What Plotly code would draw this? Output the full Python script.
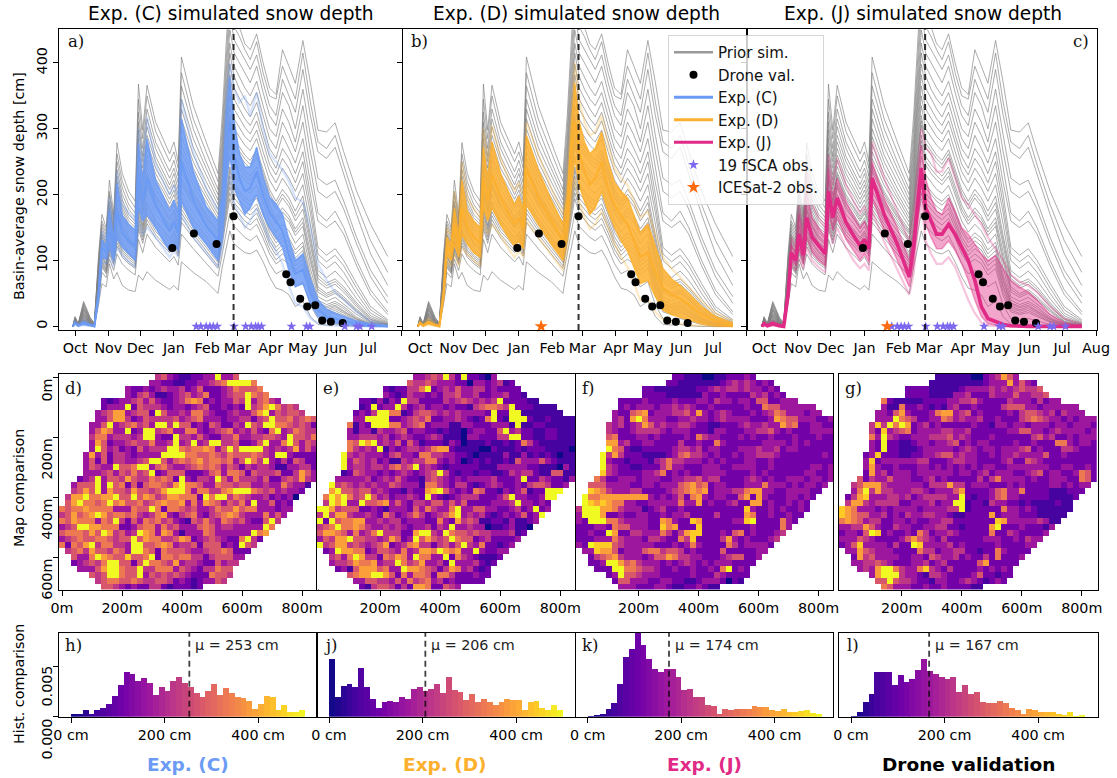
import plotly.graph_objects as go

W, H = 1117, 778
FONT = "DejaVu Sans"
SERIF = "DejaVu Serif"
TICK = 14.3

month_days = [0, 31, 61, 92, 123, 151, 182, 212, 243, 273, 304]
month_labels = ["Oct", "Nov", "Dec", "Jan", "Feb", "Mar", "Apr", "May", "Jun", "Jul", "Aug"]
day = [-2,0,3,8,14,18,22,25,29,32,36,39,44,50,56,59,63,67,75,82,88,92,96,99,110,122,133,137,141,144,148,153,158,163,169,175,181,187,193,199,205,212,219,226,234,242,250,262,275,291]

prior_sims = [
[0,15,4,38,14,5,110,170,150,222,170,279,232,205,190,368,298,366,310,285,262,280,250,409,335,280,232,320,450,530,480,455,429,420,444,400,362,352,420,395,369,434,370,298,295,309,265,205,155,106],
[0,14,4,36,13,5,105,160,145,205,165,262,220,195,180,345,285,350,296,270,250,265,240,385,315,265,220,300,420,500,455,440,420,405,432,385,350,345,395,370,345,415,340,280,270,290,245,185,130,82],
[0,13,3,34,12,4,100,155,140,200,160,250,210,185,172,325,270,330,280,255,235,252,228,365,300,250,208,285,400,475,435,420,405,390,412,370,335,320,375,350,325,390,320,265,255,272,230,170,110,62],
[0,12,3,32,11,4,98,150,135,190,155,238,200,178,165,310,258,315,270,245,225,240,218,345,285,240,200,272,380,450,415,400,385,370,395,355,320,305,355,335,300,360,290,225,215,222,190,135,85,45],
[0,12,3,30,10,3,92,145,130,185,150,228,192,170,160,298,250,303,258,235,215,232,208,330,272,230,192,260,360,430,395,378,362,350,372,335,300,288,330,310,280,335,265,205,195,205,178,125,75,35],
[0,11,3,28,9,3,90,140,128,180,148,220,185,165,155,285,240,290,250,228,208,222,200,315,260,220,185,250,345,415,380,360,345,335,355,320,285,270,310,290,265,310,240,172,160,175,150,100,55,22],
[0,11,3,26,9,3,88,138,125,175,145,212,180,160,150,272,230,280,240,220,200,215,192,300,250,210,178,240,330,398,362,345,330,318,340,305,270,255,290,270,248,285,218,160,150,160,140,92,48,18],
[0,10,2,25,8,3,85,135,122,172,142,205,175,155,146,262,222,270,232,212,193,207,185,288,240,202,170,230,318,382,345,330,315,305,325,290,258,240,270,255,232,265,200,120,108,118,100,65,30,10],
[0,10,2,24,8,2,82,132,120,168,140,198,170,150,142,252,214,260,224,205,186,200,178,276,230,195,164,222,305,365,330,316,302,292,312,280,246,230,255,240,218,250,185,110,98,108,92,58,25,8],
[0,10,2,22,7,2,80,130,118,165,138,192,165,147,138,245,208,252,216,198,180,192,172,265,222,188,158,214,292,350,315,302,288,280,298,265,235,218,240,225,205,232,172,100,88,98,82,50,20,6],
[0,9,2,20,7,2,76,128,115,160,134,186,160,143,133,237,200,243,208,190,174,185,166,255,214,180,152,206,280,335,300,288,275,267,285,252,222,205,225,210,190,215,155,85,74,84,70,42,16,5],
[0,9,2,19,6,2,72,125,112,155,130,180,155,138,128,228,192,234,200,183,167,178,160,245,205,172,146,198,268,320,285,272,260,252,268,238,208,190,208,195,175,198,140,78,66,72,60,36,13,4],
[0,8,2,18,6,2,70,120,108,150,126,174,150,133,124,220,185,226,193,176,160,171,154,235,197,165,140,190,256,305,272,260,248,240,256,226,196,178,195,182,160,178,122,68,58,64,52,30,10,3],
[0,8,2,16,5,1,66,115,104,145,122,168,145,128,120,210,178,218,186,170,154,165,148,226,190,160,134,182,245,290,258,246,236,228,242,214,184,165,180,168,148,165,110,60,50,56,45,26,8,2],
[0,8,1,15,5,1,62,112,100,140,118,162,140,124,115,202,170,210,178,163,148,158,142,216,182,152,128,174,232,275,245,232,222,215,228,200,172,155,168,158,138,152,98,52,44,50,40,22,6,2],
[0,7,1,13,4,1,58,108,96,135,114,155,134,119,110,192,162,200,170,156,142,152,136,205,172,145,120,165,220,258,230,218,208,202,214,188,160,143,155,145,126,140,88,45,38,44,34,18,5,1],
[0,7,1,12,4,1,55,104,92,130,110,148,128,114,105,182,154,190,162,148,135,145,130,195,164,138,112,156,206,242,215,205,195,190,200,175,148,132,142,134,116,128,78,40,33,38,30,14,4,1],
[0,6,1,10,3,0,52,100,88,124,105,140,120,108,100,172,146,180,154,140,128,138,123,184,155,130,105,148,194,228,202,192,182,176,186,162,136,120,130,122,104,115,68,34,28,32,24,11,3,0],
[0,6,1,9,3,0,48,95,84,118,100,132,113,102,94,160,136,168,144,132,120,130,115,172,145,120,97,138,180,212,188,178,168,162,172,150,124,108,118,110,92,102,58,28,23,27,20,8,2,0],
[0,5,1,8,2,0,44,90,80,110,94,122,105,95,88,148,126,156,134,122,112,120,107,158,134,110,88,126,165,194,172,162,152,146,155,134,110,95,102,95,78,88,46,22,18,21,15,6,1,0],
[0,5,1,7,2,0,40,82,74,102,85,110,95,85,78,132,112,140,120,108,98,106,93,140,118,96,76,110,145,172,152,144,135,130,138,118,95,80,85,78,60,68,32,12,9,12,8,3,0,0],
[0,4,0,5,1,0,35,65,60,95,72,82,62,55,53,78,70,83,70,62,56,62,55,98,82,68,50,90,120,145,125,118,112,110,116,98,75,58,55,48,30,38,15,3,2,3,1,0,0,0],
[0,7,1,11,4,1,54,106,94,128,108,145,125,112,103,178,150,186,158,145,132,142,127,190,160,134,108,152,200,236,210,200,190,184,195,170,143,127,136,128,110,122,72,36,30,35,27,12,3,1],
[0,6,1,10,3,0,50,98,86,120,102,136,116,105,97,166,141,174,149,136,124,134,119,178,150,125,101,142,187,220,195,185,175,169,179,156,130,114,124,116,98,108,62,31,25,30,22,10,2,0],
[0,6,1,8,3,0,46,92,82,114,97,127,109,98,91,154,131,162,139,127,116,125,111,165,140,115,92,132,172,203,180,170,160,154,164,142,117,101,110,102,85,95,52,25,20,24,17,7,2,0],
[0,8,2,14,5,1,64,113,102,142,120,165,142,126,118,206,174,214,182,166,151,161,145,221,186,156,131,178,238,282,251,239,229,221,235,207,178,160,174,163,143,158,104,56,47,53,42,24,7,2],
[0,9,2,17,6,2,71,122,110,152,128,177,152,135,126,224,188,230,196,180,163,174,157,240,201,168,143,194,262,312,278,266,254,246,262,232,202,184,201,188,167,188,131,73,62,68,56,33,11,3],
]

exp_c_light_hi = [0,8,3,10,4,1,60,145,130,195,150,235,185,172,160,300,245,318,245,220,200,215,195,345,265,210,175,225,355,400,360,340,350,320,355,300,262,250,237,220,195,189,150,95,70,52,40,22,8,2]
exp_c_hi = [0,6,2,7,3,1,55,132,122,178,132,217,168,155,146,278,222,285,222,197,176,192,172,315,236,182,160,202,330,378,312,262,242,242,272,226,196,186,170,132,100,110,72,40,26,20,15,8,4,1]
exp_c_mid = [0,5,1,5,2,0,50,120,112,150,115,175,142,130,122,230,190,225,185,162,145,158,142,250,192,152,130,168,270,310,260,225,205,210,235,198,172,160,145,108,80,86,52,26,15,12,8,4,2,0]
exp_c_lo = [0,4,1,3,1,0,45,105,102,120,100,135,120,110,100,182,160,170,150,130,115,125,115,190,150,125,100,135,220,262,210,190,170,180,200,170,150,135,120,85,60,65,35,15,8,5,3,1,0,0]
exp_c_light_lo = [0,3,0,2,1,0,40,98,95,110,90,120,108,98,90,160,140,150,135,118,105,115,105,170,135,112,90,120,200,230,185,170,150,160,180,155,130,115,95,62,35,30,12,5,2,1,0,0,0,0]

exp_d_light_hi = [0,8,3,12,5,1,60,150,135,205,160,250,195,178,165,300,250,305,255,225,205,218,198,310,262,210,170,215,330,400,345,310,290,295,320,275,240,225,215,190,165,175,140,105,88,75,60,38,20,8]
exp_d_hi = [0,6,2,8,3,1,55,135,125,180,140,222,175,160,150,272,225,280,232,205,185,198,178,290,238,192,155,198,305,370,312,280,262,270,295,250,218,205,195,170,142,155,120,88,72,62,50,30,15,5]
exp_d_mid = [0,5,1,6,2,0,50,122,112,155,120,180,150,135,125,225,190,230,195,172,155,165,150,240,195,160,130,165,260,310,265,235,215,225,250,210,185,168,155,130,105,112,82,58,48,42,33,18,8,2]
exp_d_lo = [0,4,1,4,1,0,45,108,100,125,105,140,125,112,105,180,160,180,155,135,122,130,118,185,155,125,100,135,215,255,215,190,170,180,205,175,150,130,115,90,65,70,45,25,18,14,10,4,1,0]
exp_d_light_lo = [0,3,0,2,1,0,40,100,92,110,92,120,110,100,92,160,140,155,138,118,105,115,105,160,135,108,85,118,190,225,190,165,148,155,175,150,125,105,90,65,40,42,22,10,6,4,2,1,0,0]

exp_j_light_hi = [0,6,2,8,3,1,55,135,120,185,140,240,185,165,150,260,215,255,215,190,172,182,165,280,225,175,128,170,250,300,270,262,235,235,255,225,195,185,170,155,135,118,100,78,68,62,52,30,12,3]
exp_j_hi = [0,5,1,6,2,0,52,125,112,170,125,205,165,150,135,240,198,225,190,168,150,160,145,250,195,150,100,145,225,275,225,195,175,170,195,175,150,140,125,110,100,108,88,70,60,52,40,18,6,1]
exp_j_mid = [0,4,1,4,1,0,48,112,100,140,108,165,135,122,110,205,165,195,158,138,122,132,118,225,170,125,75,120,195,240,180,160,140,140,155,140,120,100,70,30,12,8,3,1,0,0,0,0,0,0]
exp_j_lo = [0,3,0,2,1,0,44,100,92,118,95,135,112,100,92,175,145,165,132,115,100,110,98,195,145,100,60,95,165,205,155,135,118,118,130,115,95,70,40,15,4,2,0,0,0,0,0,0,0,0]
exp_j_light_lo = [0,2,0,1,0,0,40,95,85,105,88,120,100,90,82,155,125,150,120,100,88,95,85,175,128,85,48,80,150,190,130,110,95,95,105,90,65,40,20,6,1,0,0,0,0,0,0,0,0,0]

drone_days = [90.5,110.6,131.7,147.5,196.5,200.5,209.5,216,223.5,230,238,249]
drone_depth = [119,141,125,167,79,67,42,30,32,9,7,5]
fsca_days = [112.8,117,122,125.5,128.6,132.3,148,158.7,164,168,170.4,173.5,201.4,215.4,218.5,251,262,265,276]
icesat_day = [112.7]
fsca_zero = [0]*19
icesat_zero = [0]
valid_day = 147.5

# Map values: one character per 20 m cell, level 0 (dark) to 9 (bright), '.' = no data
map_c = [
".......... ......4532 1122339335 .......... ...",
".......... .....33221 1223345699 996....... ...",
".......... .322323433 4235222346 5556...... ...",
".......... .324531123 4534622345 59656..... ...",
".......212 3345353223 4676232335 4935643... ...",
".......233 3925444323 3234522323 2945796454 ...",
"......3457 7345529533 4366432234 3357935455 4..",
"......3357 7423544445 3456333233 4424595564 565",
".....33593 4564539949 5523254224 3954996654 542",
".....35763 3923994563 3663234563 4353269346 544",
".....46634 4434993229 4435322446 3344554395 546",
".....37523 3454463349 3493499445 2235933695 354",
".....39534 2325344499 6566763595 9999434347 353",
"....373524 4323333999 9665565465 5565439932 222",
"....352524 4334599535 6567566563 5964932425 422",
"....354339 5569935643 3456565354 2434431133 442",
"....333453 5464592355 5222356366 5254445224 753",
"...2349355 4754465652 9324439536 4443522454 743",
"..35559395 6252566547 9665336554 5533433643 31.",
"..45759375 5475545799 9636644679 9965453433 2..",
".477966779 5595764577 6662969946 5433423230 ...",
".579665696 7556456766 7363765354 639335232. ...",
"6566766663 3365596266 5453346557 566333233. ...",
"4575679756 6564346732 4563245676 43336353.. ...",
"6576663659 4253656453 2154643654 5322594... ...",
"3459977666 2235663645 3335653443 333396.... ...",
"5666575974 5349763763 1333653333 33967..... ...",
"3456556654 5595766445 7623454322 6942...... ...",
"6265794664 4399556763 4452555232 954....... ...",
".456475546 5399652655 5433455652 22........ ...",
"..53369765 5855692665 6644245553 3......... ...",
"..23454699 5525966547 3443225344 .......... ...",
"...3335799 6559446663 543244655. .......... ...",
".....54599 6559354545 432226554. .......... ...",
"......4566 5565445542 32123354.. .......... ...",
".......554 3232244212 2212...... .......... ...",
]

map_d = [
".......... ......3345 4942922103 .......... ...",
".......... .....54454 3332203323 412....... ...",
".......... .212244692 3435334423 2222...... ...",
".......... .321243323 2445334223 34221..... ...",
".......221 3132944222 2434543434 9222211... ...",
".......129 2339423423 3232214566 5492221111 ...",
"......2324 9966124554 3434333329 2299111111 1..",
"......3399 9922345462 2334321269 2199921121 111",
".....61329 9966345623 3311332223 3319112211 111",
".....31331 4334523322 1211023322 5934221122 111",
".....33444 3423432234 3111033222 4499221122 111",
".....65979 3435253122 2132011121 1212642111 111",
".....64343 9132344346 7721111002 1112122211 110",
"....943433 3245332664 4332210111 1311312121 011",
"....935434 2311434466 3232012121 1215333532 111",
"....934434 4356459343 2122222111 3333322111 031",
"....125433 2323432345 9421221221 1243442115 511",
"...3333342 3435322145 4323233334 2223922432 213",
"..94543434 3354333166 4324421234 3223245542 23.",
"..79554553 4322132278 9532326522 1323512299 9..",
".697964595 3423343293 2123444222 3593322399 ...",
".497933955 6735324435 5353522223 334933232. ...",
"9974555223 2133325364 3369335533 223423923. ...",
"4947743343 2642346423 4579343421 23235239.. ...",
"9295667733 4344233322 6327454112 2131123... ...",
"4569667643 3434323342 4393343301 123110.... ...",
"5776536346 9444227994 3965545443 33412..... ...",
"3547795544 3475239575 4596552342 2223...... ...",
"9457745434 5723467442 4535943622 123....... ...",
".239776623 5543634776 9767339322 33........ ...",
"..45369744 2657639663 3926432111 2......... ...",
"..34457667 3449645733 4293334212 .......... ...",
"...2315777 5633977654 247634212. .......... ...",
".....56779 9752636652 664222322. .......... ...",
"......3355 4435364563 42322222.. .......... ...",
".......214 5542427762 2543...... .......... ...",
]

map_j = [
".......... ......2211 1001122232 .......... ...",
".......... .....22111 1111234343 232....... ...",
".......... .221111111 2234344343 3232...... ...",
".......... .222211111 1322322224 34232..... ...",
".......222 2322223222 3324332332 5522333... ...",
".......232 3332334343 2232222232 2655333333 ...",
"......3225 6723334453 7323432223 2346533323 3..",
"......3427 9633322334 3323433332 2237655333 223",
".....43423 4753433443 2211222343 3433756223 322",
".....43223 4444323332 2213322233 4453232223 333",
".....56222 3323222232 6433222323 2232223222 322",
".....77342 2332222422 3226322222 2333323232 222",
".....96521 1222223443 4233222333 4334233222 222",
"....947422 2111123564 4323223233 4443222222 232",
"....932212 2213464433 3232322233 2232222222 222",
"....943221 1222463322 2333223333 2232222223 323",
"....843222 2334623232 2333322223 2322222233 223",
"...6422333 2333223344 5344222234 3232233323 323",
"..55533332 2332333567 5623322233 3633323233 23.",
"..87643334 4222234567 6723334467 7332233332 2..",
".966777777 7732323526 7323322572 7322233232 ...",
".987876633 2233333633 7232234227 723223232. ...",
"4999776433 3123422322 2222222283 223232232. ...",
"3999722322 3322323342 2224222276 22322322.. ...",
"3299966433 3322763228 7222223389 2222632... ...",
"2223326553 3322867222 8222222223 222263.... ...",
"2232297224 4333642478 8222325623 22234..... ...",
"2223336433 3244322648 2222473232 2234...... ...",
"3298885433 3332223236 3222264233 332....... ...",
".338775233 3566455423 2222522222 33........ ...",
"..24567433 3235576443 3222345522 3......... ...",
"..22399756 4333232343 2323332222 .......... ...",
"...2229966 5443223223 223269232. .......... ...",
".....23955 4333222223 222432222. .......... ...",
"......2553 3322332211 23332021.. .......... ...",
".......333 2223321122 3211...... .......... ...",
]

map_drone = [
".......... ......1111 1100234753 .......... ...",
".......... .....11111 1111233373 532....... ...",
".......... .222211111 2333343434 5445...... ...",
".......... .222211113 3422243335 33445..... ...",
".......621 1111222233 4453222243 3324233... ...",
".......311 6223212134 2232222455 5332333333 ...",
"......3325 7322236773 4523222232 4554342433 3..",
"......3339 6542233653 4334223222 4565433232 333",
".....48496 9723423222 2232213323 3233323323 332",
".....42834 5623333443 3422222233 5533234333 323",
".....63943 2233344453 4322232222 2245342232 333",
".....32922 1123323345 2323322223 2232226632 332",
".....32922 1112333332 3432332333 4523222443 222",
"....238222 1122334553 4332232334 3333522322 222",
"....382333 3334422234 4332222342 2543222222 222",
"....373223 2223323232 3232332233 3333322332 232",
"....273423 3323333332 3323423332 2345233223 652",
"...5243353 3322342322 2224246333 3232233322 652",
"..45777433 3333244474 4233322232 3222233232 33.",
"..36947443 3344323335 7222235633 6222211122 2..",
".247833344 3423444433 9212235633 2222211112 ...",
".477434444 2233342339 9122143322 121111211. ...",
"8763332323 3332333344 9122222633 232111111. ...",
"8765533423 2433443321 1222272333 22211111.. ...",
"6765344223 3232233442 2222228733 3334311... ...",
"3344753224 3322334422 1222279222 322213.... ...",
"2332598232 2326423343 2222262243 22223..... ...",
"3335432222 3575432422 2222333223 2433...... ...",
"2358333324 2298333342 3222223222 233....... ...",
".337543332 2226442334 4221226322 22........ ...",
"..27453333 2233254334 2322426222 3......... ...",
"..33445432 2233423422 2225722222 .......... ...",
"...3437996 4336843242 222323232. .......... ...",
".....37999 4332144322 223522122. .......... ...",
"......5595 4432213322 34321232.. .......... ...",
".......653 3322322322 2211...... .......... ...",
]

hist_c = [.0003,.0003,.00065,.0003,.0007,.0009,.0013,.0021,.0032,.0045,.0043,.0036,.0039,.0034,.0022,.003,.0026,.0036,.004,.0034,.003,.0024,.002,.0026,.0033,.0022,.0029,.0024,.002,.0019,.0016,.0008,.0013,.0021,.002,.00065,.0012,.00045,.00045,.00065]
hist_d = [.0058,.002,.0031,.0033,.003,.0049,.003,.0018,.0009,.0015,.0016,.0015,.002,.0018,.0028,.003,.0026,.0028,.0033,.0024,.004,.0027,.0025,.0017,.0023,.0015,.0018,.0015,.0012,.0015,.0018,.0017,.0017,.00065,.0015,.0016,.0009,.0007,.0012,.0007]
hist_j = [.00005,.0001,.00025,.0008,.0014,.0033,.006,.0068,.0085,.0072,.0058,.0048,.0045,.0048,.0048,.004,.0027,.0028,.002,.002,.0012,.0011,.00027,.0008,.00065,.0008,.0008,.0008,.0011,.001,.001,.00065,.00057,.0008,.00047,.00047,.00057,.0007,.00037,.00027]
hist_drone = [.00005,.00047,.0015,.0023,.0045,.0045,.0045,.0032,.0042,.0035,.0038,.0047,.0058,.0046,.0043,.004,.0038,.004,.0025,.0032,.0023,.0025,.0015,.0014,.0014,.0016,.0014,.0009,.00065,.00027,.0008,.00065,.00047,.00047,.00047,.00027,.00017,.00047,.00005,.00015]
hist_means = [253, 206, 174, 167]

panel_titles = ["Exp. (C) simulated snow depth", "Exp. (D) simulated snow depth", "Exp. (J) simulated snow depth"]
bottom_labels = ["Exp. (C)", "Exp. (D)", "Exp. (J)", "Drone validation"]
map_ticks = [0, 200, 400, 600, 800]
hist_ticks = [0, 200, 400]
depth_ticks = [0, 100, 200, 300, 400]
density_ticks = [0, 0.005]

BLUE, ORANGE, PINK = "#6c9bf5", "#fdb02e", "#e02a86"
def rgba(h, a):
    return f"rgba({int(h[1:3],16)},{int(h[3:5],16)},{int(h[5:7],16)},{a})"

fig = go.Figure()
layout = {}

def ax_name(kind, i):
    return kind + ("" if i == 1 else str(i))

def setup(i, x0, x1, y0, y1, xr, yr, xa, ya):
    base = dict(showgrid=False, zeroline=False, showline=True, linecolor="black", linewidth=1, mirror=True, automargin=False,
                ticks="outside", ticklen=5, tickwidth=1, tickcolor="black", tickfont=dict(size=TICK, family=FONT, color="black"))
    layout[ax_name("xaxis", i)] = dict(base, domain=[x0/W, x1/W], range=xr, anchor=ax_name("y", i), **xa)
    layout[ax_name("yaxis", i)] = dict(base, domain=[1-y1/H, 1-y0/H], range=yr, anchor=ax_name("x", i), **ya)

top_boxes = [(59, 402, [-14.9, 304.2]), (403, 747, [-15.8, 304.2]), (747, 1097, [-15.6, 304.9])]
for k, (x0, x1, xr) in enumerate(top_boxes):
    labels = list(month_labels)
    if k < 2:
        labels[-1] = ""
    setup(k+1, x0, x1, 29.3, 330, xr, [-5.5, 451],
          dict(tickmode="array", tickvals=month_days, ticktext=labels),
          dict(tickmode="array", tickvals=depth_ticks, ticktext=[str(v) for v in depth_ticks] if k == 0 else [""]*5, tickangle=-90))

map_boxes = [(59, 317.7, 852), (317, 575, 849), (575.7, 833, 848), (838.7, 1097.7, 853)]
for k, (x0, x1, xr) in enumerate(map_boxes):
    labels = [f"{v}m" for v in map_ticks]
    ya = dict(tickmode="array", tickvals=[0, 200, 400, 600], ticktext=[""]*4)
    if k > 0:
        ya["ticks"] = ""
    xa = dict(tickmode="array", tickvals=map_ticks if k == 0 else map_ticks[1:], ticktext=labels if k == 0 else labels[1:])
    setup(k+4, x0, x1, 374, 589.5, [-10, xr], [707, -10], xa, ya)

hist_boxes = [(59, 317, [-25.7, 526]), (317, 575, [-25.7, 526]), (575.7, 833, [-25.7, 525]), (839, 1098, [-25.7, 528])]
for k, (x0, x1, xr) in enumerate(hist_boxes):
    ya = dict(tickmode="array", tickvals=density_ticks, ticktext=["", ""])
    if k > 0:
        ya["ticks"] = ""
    setup(k+8, x0, x1, 633, 716.7, xr, [0, 0.00835],
          dict(tickmode="array", tickvals=hist_ticks, ticktext=[f"{v} cm" for v in hist_ticks]), ya)

def xy(i):
    return dict(xaxis=ax_name("x", i), yaxis=ax_name("y", i))

exps = [
    (BLUE, exp_c_light_hi, exp_c_hi, exp_c_mid, exp_c_lo, exp_c_light_lo, 0.85, 2),
    (ORANGE, exp_d_light_hi, exp_d_hi, exp_d_mid, exp_d_lo, exp_d_light_lo, 0.85, 2),
    (PINK, exp_j_light_hi, exp_j_hi, exp_j_mid, exp_j_lo, exp_j_light_lo, 0.42, 3.6),
]
for k, (col, lh, hi, mid, lo, ll, fa, mw) in enumerate(exps):
    i = k + 1
    for s in prior_sims:
        fig.add_trace(go.Scatter(x=day, y=s, mode="lines", line=dict(color="rgba(128,128,128,0.65)", width=1), showlegend=False, hoverinfo="skip", **xy(i)))
    for s in (lh, ll):
        fig.add_trace(go.Scatter(x=day, y=s, mode="lines", line=dict(color=rgba(col, 0.28), width=2.2), showlegend=False, hoverinfo="skip", **xy(i)))
    fig.add_trace(go.Scatter(x=day, y=hi, mode="lines", line=dict(color=rgba(col, fa), width=1.5), showlegend=False, hoverinfo="skip", **xy(i)))
    fig.add_trace(go.Scatter(x=day, y=lo, mode="lines", line=dict(color=rgba(col, fa), width=1.5), fill="tonexty", fillcolor=rgba(col, fa), showlegend=False, hoverinfo="skip", **xy(i)))
    fig.add_trace(go.Scatter(x=day, y=mid, mode="lines", line=dict(color=col, width=mw), showlegend=False, hoverinfo="skip", **xy(i)))
    fig.add_trace(go.Scatter(x=drone_days, y=drone_depth, mode="markers", marker=dict(color="black", size=8), showlegend=False, hoverinfo="skip", **xy(i)))
    if k in (0, 2):
        fig.add_trace(go.Scatter(x=fsca_days, y=fsca_zero, mode="markers", marker=dict(color="#7b68ee", size=7.5, symbol="star"), showlegend=False, cliponaxis=False, hoverinfo="skip", **xy(i)))
    if k in (1, 2):
        fig.add_trace(go.Scatter(x=icesat_day, y=icesat_zero, mode="markers", marker=dict(color="#ff6a0d", size=10, symbol="star"), showlegend=False, cliponaxis=False, hoverinfo="skip", **xy(i)))

fig.add_trace(go.Scatter(x=[None], y=[None], mode="lines", name="Prior sim.", line=dict(color="#999999", width=2.5), legendgroup="a", **xy(1)))
fig.add_trace(go.Scatter(x=[None], y=[None], mode="markers", name="Drone val.", marker=dict(color="black", size=8), legendgroup="b", **xy(1)))
fig.add_trace(go.Scatter(x=[None], y=[None], mode="lines", name="Exp. (C)", line=dict(color=BLUE, width=3), legendgroup="c", **xy(1)))
fig.add_trace(go.Scatter(x=[None], y=[None], mode="lines", name="Exp. (D)", line=dict(color=ORANGE, width=3), legendgroup="d", **xy(1)))
fig.add_trace(go.Scatter(x=[None], y=[None], mode="lines", name="Exp. (J)", line=dict(color=PINK, width=3), legendgroup="e", **xy(1)))
fig.add_trace(go.Scatter(x=[None], y=[None], mode="markers", name="19 fSCA obs.", marker=dict(color="#7b68ee", size=8, symbol="star"), legendgroup="f", **xy(1)))
fig.add_trace(go.Scatter(x=[None], y=[None], mode="markers", name="ICESat-2 obs.", marker=dict(color="#ff6a0d", size=10, symbol="star"), legendgroup="g", **xy(1)))

def decode(rows):
    z = []
    for row in rows:
        cells = row.replace(" ", "")[:43].ljust(43, ".")
        z.append([None if ch == "." else int(ch) for ch in cells])
    return z

for k, rows in enumerate([map_c, map_d, map_j, map_drone]):
    fig.add_trace(go.Heatmap(z=decode(rows), x0=0, dx=20, y0=0, dy=20, colorscale="Plasma", zmin=0, zmax=9, showscale=False, hoverinfo="skip", **xy(k+4)))

for k, vals in enumerate([hist_c, hist_d, hist_j, hist_drone]):
    fig.add_trace(go.Bar(y=vals, x0=6.25, dx=12.5, width=12.6, marker=dict(color=[i*12.5+6.25 for i in range(len(vals))], colorscale="Plasma", cmin=0, cmax=500, line=dict(width=0)), showlegend=False, hoverinfo="skip", **xy(k+8)))

shapes, ann = [], []
for i in (1, 2, 3):
    shapes.append(dict(type="line", xref=ax_name("x", i), yref=ax_name("y", i)+" domain", x0=valid_day, x1=valid_day, y0=0, y1=1, line=dict(color="rgba(0,0,0,0.8)", width=2, dash="6px,4px")))
for k, mu in enumerate(hist_means):
    i = k + 8
    shapes.append(dict(type="line", xref=ax_name("x", i), yref=ax_name("y", i)+" domain", x0=mu, x1=mu, y0=0, y1=1, line=dict(color="rgba(0,0,0,0.75)", width=1.8, dash="6px,4px")))
    ann.append(dict(xref=ax_name("x", i), yref=ax_name("y", i)+" domain", x=mu, y=0.86, xshift=4, text=f"\u00b5 = {mu} cm", showarrow=False, xanchor="left", yanchor="middle", font=dict(size=TICK, family=FONT, color="#222")))

def page(x, y, text, size=TICK, family=FONT, color="black", angle=0, xa="center", ya="middle"):
    ann.append(dict(xref="paper", yref="paper", x=x/W, y=1-y/H, text=text, showarrow=False, xanchor=xa, yanchor=ya, textangle=angle, font=dict(size=size, family=family, color=color)))

for t, cx in zip(panel_titles, [231, 576, 923]):
    page(cx, 14, t, size=18.6)
for t, cx, col in zip(bottom_labels, [188, 445, 704, 968], [BLUE, ORANGE, PINK, "black"]):
    page(cx, 764, f"<b>{t}</b>", size=18.5, color=col)

page(19, 186, "Basin-average snow depth [cm]", angle=-90)
page(19, 488, "Map comparison", angle=-90)
page(19, 684, "Hist. comparison", angle=-90)

for t, x, y in [("a)",76,42),("b)",419,42),("c)",1081,42),("d)",73,388),("e)",331,388),("f)",588,388),("g)",853,388),("h)",73,645),("j)",331,645),("k)",590,645),("l)",853,645)]:
    page(x, y, t, size=16.5, family=SERIF, color="#111")

for v in [0, 200, 400, 600]:
    ann.append(dict(xref="paper", yref="y4", x=47/W, y=v, text=f"{v}m", showarrow=False, textangle=-90, xanchor="center", yanchor="top", font=dict(size=TICK, family=FONT, color="black")))
for v, py in zip(density_ticks, [717, 664]):
    page(46, py, f"{v:.3f}", angle=-90, ya="top")

fig.update_layout(
    width=W, height=H, margin=dict(l=0, r=0, t=0, b=0), paper_bgcolor="white", plot_bgcolor="white",
    font=dict(family=FONT, size=TICK, color="black"), barmode="overlay", bargap=0,
    shapes=shapes, annotations=ann,
    legend=dict(x=668/W, y=1-35/H, xanchor="left", yanchor="top", bgcolor="rgba(255,255,255,0.8)",
                bordercolor="rgba(204,204,204,0.8)", borderwidth=1, font=dict(size=15, family=FONT, color="#111"),
                tracegroupgap=3, itemwidth=39, traceorder="normal"),
    **layout,
)
fig.write_html("out.html", config={"displayModeBar": False}, post_script="document.body.style.margin='0';")
